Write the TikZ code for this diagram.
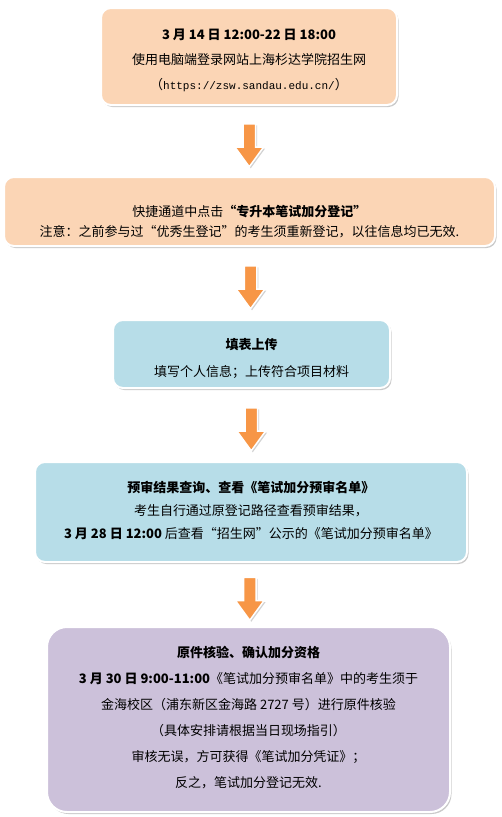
\documentclass[tikz,border=0pt]{standalone}
\usepackage{fontspec}
\setmainfont{Noto Sans CJK SC}
\newfontfamily\urlfont{Liberation Mono}
\usetikzlibrary{shapes.arrows,shadows,calc}

\definecolor{boxpeach}{HTML}{FBD5B5}
\definecolor{boxblue}{HTML}{B7DDE8}
\definecolor{boxlilac}{HTML}{CCC1DA}
\definecolor{arroworange}{HTML}{F79646}

\tikzset{
  stepbox/.style={draw=white, line width=2pt, rounded corners=10pt,
    drop shadow={shadow xshift=1.5pt, shadow yshift=-2pt, fill=black!35, opacity=.6}},
  steptext/.style={align=center, inner sep=0pt},
  bigarrow/.style={single arrow, rotate=-90, fill=arroworange, draw=white, line width=1.5pt,
    minimum height=43pt, inner xsep=0pt, inner ysep=5.5pt,
    single arrow head extend=8pt, single arrow tip angle=72,
    drop shadow={shadow xshift=1.5pt, shadow yshift=-1.5pt, fill=black!35, opacity=.5}}
}

\begin{document}
\begin{tikzpicture}[x=1pt,y=-1pt]
  \useasboundingbox (0,0) rectangle (502,817);

  % boxes
  \node [stepbox, fill=boxpeach, minimum width=296pt, minimum height=97pt] (box1) at (249,56.5) {};
  \node [stepbox, fill=boxpeach, minimum width=491pt, minimum height=69pt] (box2) at (249.5,211.5) {};
  \node [stepbox, fill=boxblue, minimum width=277pt, minimum height=68pt] (box3) at (251.5,354) {};
  \node [stepbox, fill=boxblue, minimum width=432pt, minimum height=100pt] (box4) at (251,512) {};
  \node [stepbox, fill=boxlilac, rounded corners=20pt, minimum width=403pt, minimum height=185pt] (box5) at (248.5,719.5) {};

  % texts
  \node [steptext, font=\fontsize{13}{25}\selectfont] (t1) at (249,60)
    {\textbf{3 月 14 日 12:00-22 日 18:00}\\
     使用电脑端登录网站上海杉达学院招生网\\
     （{\urlfont\fontsize{11}{25}\selectfont https://zsw.sandau.edu.cn/}）};
  \node [steptext, font=\fontsize{13}{20}\selectfont] (t2) at (249.5,222)
    {快捷通道中点击\textbf{“专升本笔试加分登记”}\\
     注意：之前参与过“优秀生登记”的考生须重新登记，以往信息均已无效.};
  \node [steptext, font=\fontsize{13}{27}\selectfont] (t3) at (251.5,358.5)
    {\textbf{填表上传}\\
     填写个人信息；上传符合项目材料};
  \node [steptext, font=\fontsize{13}{23}\selectfont] (t4) at (251,510)
    {\textbf{预审结果查询、查看《笔试加分预审名单》}\\
     考生自行通过原登记路径查看预审结果，\\
     \textbf{3 月 28 日 12:00} 后查看“招生网”公示的《笔试加分预审名单》};
  \node [steptext, font=\fontsize{13}{26}\selectfont] (t5) at (248.5,718)
    {\textbf{原件核验、确认加分资格}\\
     \textbf{3 月 30 日 9:00-11:00}《笔试加分预审名单》中的考生须于\\
     金海校区（浦东新区金海路 2727 号）进行原件核验\\
     （具体安排请根据当日现场指引）\\
     审核无误，方可获得《笔试加分凭证》；\\
     反之，笔试加分登记无效.};

  % arrows
  \foreach \a/\b in {box1/box2, box2/box3, box3/box4, box4/box5}
    \node [bigarrow] (arr-\a) at ($(\a.south)!.5!(\b.north)$) {};
\end{tikzpicture}
\end{document}
